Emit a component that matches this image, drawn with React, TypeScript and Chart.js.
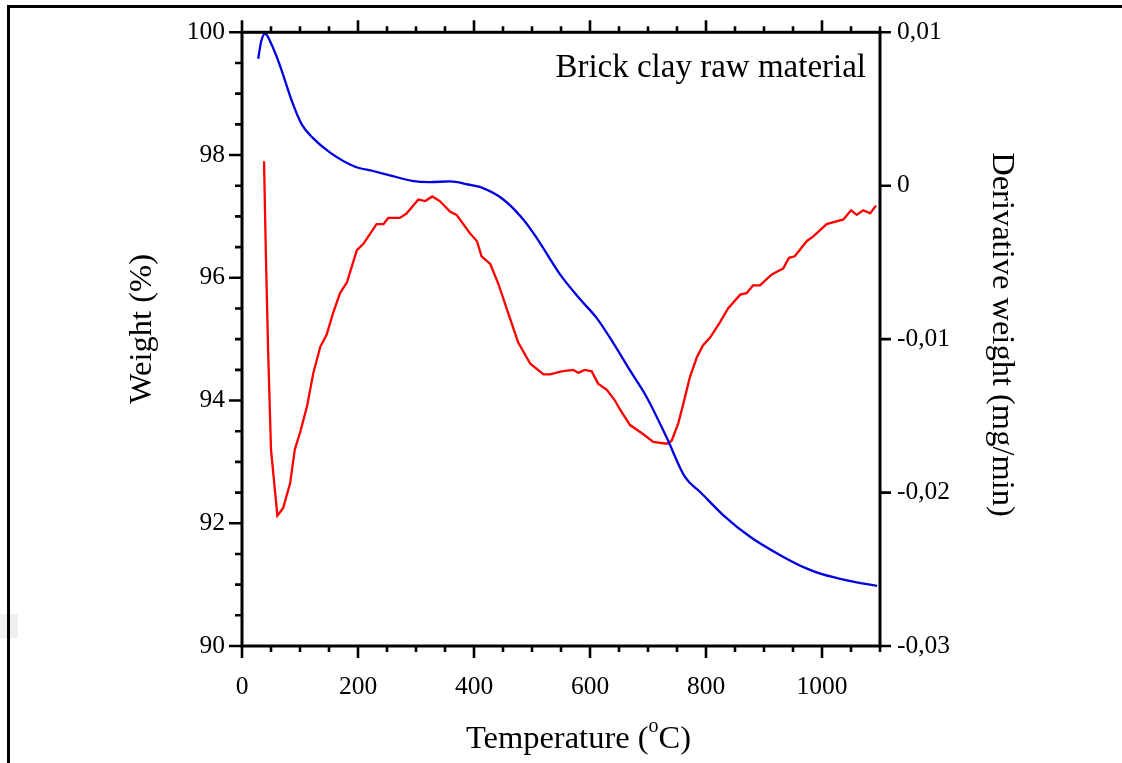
import React, { useEffect, useRef } from "react";
import { Chart, registerables } from "chart.js";

Chart.register(...registerables);

// ---- Data ----
// TG curve: temperature (°C) and weight (%)
const tgTemp = [28, 33, 40, 50, 65, 86, 103, 122, 152, 195, 226, 255, 293, 324, 359, 390, 410, 450, 485, 508, 548, 583, 611, 640, 669, 698, 732, 764, 790, 830, 876, 928, 974, 1000, 1043, 1095];
const tgWeight = [99.57, 99.85, 99.98, 99.82, 99.47, 98.88, 98.5, 98.28, 98.04, 97.81, 97.74, 97.67, 97.58, 97.56, 97.57, 97.52, 97.48, 97.28, 96.95, 96.65, 96.06, 95.65, 95.35, 94.94, 94.49, 94.05, 93.4, 92.75, 92.51, 92.13, 91.78, 91.48, 91.26, 91.17, 91.07, 90.98];

// DTG curve: temperature (°C) and derivative weight (mg/min)
const dtgTemp = [38, 41, 45, 50, 61, 71, 83, 91, 100, 112, 123, 135, 146, 157, 169, 181, 198, 209, 232, 244, 252, 272, 284, 304, 316, 328, 341, 359, 370, 393, 405, 413, 428, 442, 459, 476, 497, 520, 531, 551, 571, 580, 591, 603, 614, 629, 643, 652, 669, 692, 709, 729, 734, 741, 752, 761, 772, 784, 795, 807, 824, 838, 859, 870, 881, 893, 913, 922, 933, 943, 953, 974, 985, 1008, 1037, 1050, 1060, 1071, 1083, 1093];
const dtgDeriv = [0.0016, -0.0042, -0.0107, -0.0172, -0.0215, -0.021, -0.0194, -0.0172, -0.0161, -0.0144, -0.0122, -0.0105, -0.0097, -0.0083, -0.007, -0.0063, -0.0042, -0.0038, -0.0025, -0.0025, -0.0021, -0.0021, -0.0018, -0.0009, -0.001, -0.0007, -0.001, -0.0017, -0.0019, -0.0031, -0.0036, -0.0046, -0.0051, -0.0064, -0.0083, -0.0102, -0.0116, -0.0123, -0.0123, -0.0121, -0.012, -0.0122, -0.012, -0.0121, -0.0129, -0.0133, -0.014, -0.0146, -0.0156, -0.0162, -0.0167, -0.0168, -0.0168, -0.0166, -0.0155, -0.0142, -0.0125, -0.0112, -0.0104, -0.0099, -0.0089, -0.008, -0.0071, -0.007, -0.0065, -0.0065, -0.0058, -0.0056, -0.0054, -0.0047, -0.0046, -0.0036, -0.0033, -0.0025, -0.0022, -0.0016, -0.0019, -0.0016, -0.0018, -0.0013];

// Tick labels
const xTicks = [0, 200, 400, 600, 800, 1000];
const yLeftTicks = [90, 92, 94, 96, 98, 100];
const yRightTicks = [-0.03, -0.02, -0.01, 0, 0.01];

const TITLE = "Brick clay raw material";
const X_TITLE_MAIN = "Temperature (";
const X_TITLE_SUP = "o";
const X_TITLE_END = "C)";
const Y_TITLE = "Weight (%)";
const Y2_TITLE = "Derivative weight (mg/min)";

const SERIF = "'Liberation Serif', 'Times New Roman', serif";

const fmtRight = (v: number) => {
  const r = Math.round(v * 100) / 100;
  if (r === 0) return "0";
  return r.toFixed(2).replace(".", ",");
};

const decorPlugin = {
  id: "decor",
  afterDraw(chart: any) {
    const ctx: CanvasRenderingContext2D = chart.ctx;
    const { left, right, top, bottom } = chart.chartArea;
    const xs = chart.scales.x;
    const ys = chart.scales.y;
    const y2s = chart.scales.y2;
    ctx.save();
    ctx.strokeStyle = "#000";
    ctx.lineWidth = 3;
    ctx.lineCap = "butt";
    ctx.strokeRect(left, top, right - left, bottom - top);

    ctx.lineWidth = 2.6;
    ctx.beginPath();
    // x ticks (bottom and top), minor every 50
    for (let v = 0; v <= 1100; v += 50) {
      const px = xs.getPixelForValue(v);
      const major = v % 200 === 0;
      const len = major ? 12 : 6;
      ctx.moveTo(px, bottom);
      ctx.lineTo(px, bottom + len);
      ctx.moveTo(px, top);
      ctx.lineTo(px, top - len);
    }
    // left y ticks, minor every 0.5
    for (let v = 90; v <= 100.001; v += 0.5) {
      const py = ys.getPixelForValue(v);
      const major = Math.abs(v / 2 - Math.round(v / 2)) < 1e-6;
      const len = major ? 13 : 7;
      ctx.moveTo(left, py);
      ctx.lineTo(left - len, py);
    }
    // right y ticks
    for (const v of yRightTicks) {
      const py = y2s.getPixelForValue(v);
      ctx.moveTo(right, py);
      ctx.lineTo(right + 11, py);
    }
    ctx.stroke();

    ctx.fillStyle = "#000";
    // Chart title
    ctx.font = `33px ${SERIF}`;
    ctx.textAlign = "right";
    ctx.textBaseline = "alphabetic";
    ctx.fillText(TITLE, 866, 77);

    // Left axis title
    ctx.save();
    ctx.font = `32.5px ${SERIF}`;
    ctx.translate(151, 329);
    ctx.rotate(-Math.PI / 2);
    ctx.textAlign = "center";
    ctx.fillText(Y_TITLE, 0, 0);
    ctx.restore();

    // Right axis title
    ctx.save();
    ctx.font = `32.5px ${SERIF}`;
    ctx.translate(993, 334.5);
    ctx.rotate(Math.PI / 2);
    ctx.textAlign = "center";
    ctx.fillText(Y2_TITLE, 0, 0);
    ctx.restore();

    // Bottom axis title with superscript
    ctx.textAlign = "left";
    const mainFont = `32.5px ${SERIF}`;
    const supFont = `20px ${SERIF}`;
    ctx.font = mainFont;
    const wa = ctx.measureText(X_TITLE_MAIN).width;
    const wc = ctx.measureText(X_TITLE_END).width;
    ctx.font = supFont;
    const wb = ctx.measureText(X_TITLE_SUP).width;
    const total = wa + wb + wc;
    let sx = 578.5 - total / 2;
    const base = 748;
    ctx.font = mainFont;
    ctx.fillText(X_TITLE_MAIN, sx, base);
    sx += wa;
    ctx.font = supFont;
    ctx.fillText(X_TITLE_SUP, sx, base - 16);
    sx += wb;
    ctx.font = mainFont;
    ctx.fillText(X_TITLE_END, sx, base);

    ctx.restore();
  },
};

export default function App() {
  const ref = useRef<HTMLCanvasElement>(null);
  useEffect(() => {
    const tickFont = { family: SERIF, size: 25.5 };
    const chart = new Chart(ref.current as HTMLCanvasElement, {
      type: "line",
      data: {
        datasets: [
          {
            label: "Weight",
            data: tgTemp.map((t, i) => ({ x: t, y: tgWeight[i] })),
            borderColor: "rgb(0,0,225)",
            borderWidth: 2.3,
            pointRadius: 0,
            yAxisID: "y",
            cubicInterpolationMode: "monotone",
          },
          {
            label: "Derivative weight",
            data: dtgTemp.map((t, i) => ({ x: t, y: dtgDeriv[i] })),
            borderColor: "rgb(255,0,0)",
            borderWidth: 2.3,
            pointRadius: 0,
            yAxisID: "y2",
            tension: 0,
          },
        ],
      },
      options: {
        animation: false,
        responsive: true,
        maintainAspectRatio: false,
        layout: { padding: { top: 31, left: 0, right: 0, bottom: 0 } },
        plugins: { legend: { display: false }, tooltip: { enabled: false } },
        scales: {
          x: {
            type: "linear",
            position: "bottom",
            min: 0,
            max: 1100,
            afterBuildTicks: (s: any) => {
              s.ticks = xTicks.map((v) => ({ value: v }));
            },
            afterFit: (s: any) => {
              s.height = 117;
            },
            grid: { display: false, drawTicks: false },
            border: { display: false },
            ticks: {
              font: tickFont,
              color: "#000",
              padding: 26,
              maxRotation: 0,
              autoSkip: false,
              callback: (v: any) => String(v),
            },
          },
          y: {
            type: "linear",
            position: "left",
            min: 90,
            max: 100,
            afterBuildTicks: (s: any) => {
              s.ticks = yLeftTicks.map((v) => ({ value: v }));
            },
            afterFit: (s: any) => {
              s.width = 242;
            },
            grid: { display: false, drawTicks: false },
            border: { display: false },
            ticks: {
              font: tickFont,
              color: "#000",
              padding: 17,
              autoSkip: false,
              callback: (v: any) => String(v),
            },
          },
          y2: {
            type: "linear",
            position: "right",
            min: -0.03,
            max: 0.01,
            afterBuildTicks: (s: any) => {
              s.ticks = yRightTicks.map((v) => ({ value: v }));
            },
            afterFit: (s: any) => {
              s.width = 242;
            },
            grid: { display: false, drawTicks: false },
            border: { display: false },
            ticks: {
              font: tickFont,
              color: "#000",
              padding: 17,
              autoSkip: false,
              callback: (v: any) => fmtRight(Number(v)),
            },
          },
        },
      } as any,
      plugins: [decorPlugin],
    });
    return () => chart.destroy();
  }, []);

  return (
    <div
      style={{
        position: "fixed",
        left: 0,
        top: 0,
        width: 1122,
        height: 763,
        overflow: "hidden",
        background: "#fff",
      }}
    >
      <div
        style={{
          position: "absolute",
          left: 0,
          top: 614,
          width: 18,
          height: 24,
          background: "#f0f0f0",
        }}
      />
      <div
        style={{
          position: "absolute",
          left: 7,
          top: 5,
          width: 1300,
          height: 1000,
          borderTop: "3px solid #000",
          borderLeft: "3px solid #000",
        }}
      />
      <div style={{ position: "absolute", left: 0, top: 0, width: 1122, height: 763 }}>
        <canvas ref={ref} />
      </div>
    </div>
  );
}
